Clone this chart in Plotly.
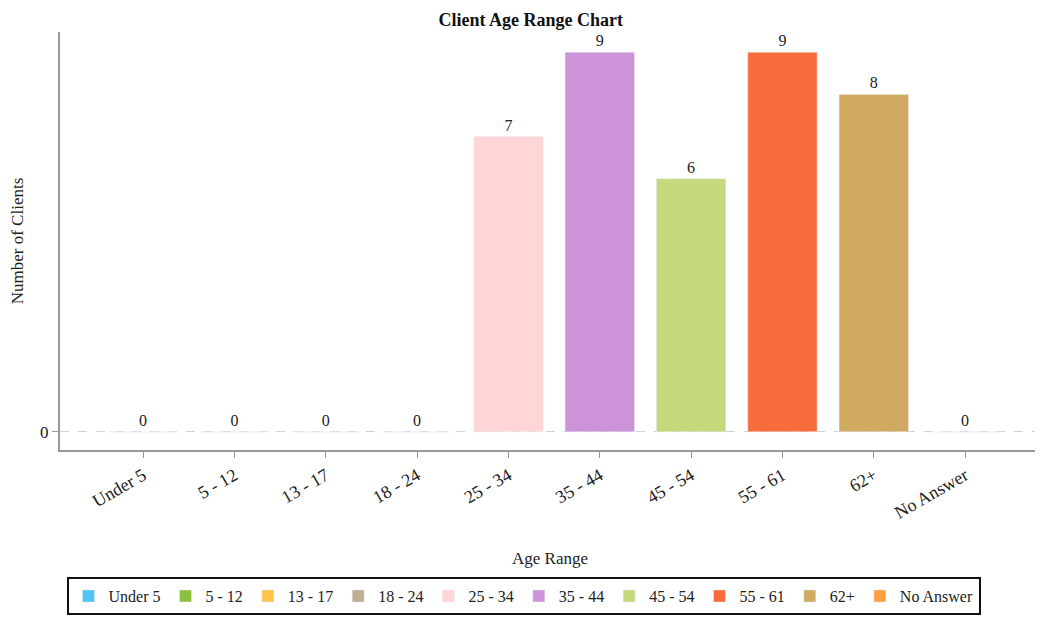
import plotly.graph_objects as go

# Client counts per age range
age_ranges = ["Under 5", "5 - 12", "13 - 17", "18 - 24", "25 - 34",
              "35 - 44", "45 - 54", "55 - 61", "62+", "No Answer"]
clients = [0, 0, 0, 0, 7, 9, 6, 9, 8, 0]
colors = ["#4FC3F7", "#8DC03F", "#FFC447", "#BDAF8F", "#FFD5D8",
          "#CD93D8", "#C4D97C", "#F76B3C", "#D1AA62", "#FF9D3F"]

FONT = "Liberation Serif"

fig = go.Figure()

for name, val, col in zip(age_ranges, clients, colors):
    fig.add_trace(go.Bar(
        x=[name],
        y=[val],
        name=name,
        marker_color=col,
        width=0.76,
        text=[str(val)],
        textposition='outside',
        textfont=dict(size=16, color='#222'),
        cliponaxis=False,
    ))

# page body adds an 8px margin, so the figure is sized 8px smaller
fig.update_layout(
    width=1035,
    height=634,
    margin=dict(l=52, r=3, t=24, b=192, autoexpand=False),
    plot_bgcolor='white',
    paper_bgcolor='white',
    font=dict(family=FONT, size=16, color='#222'),
    title=dict(text="<b>Client Age Range Chart</b>", x=0.505, xanchor='center',
               y=0.995, yanchor='top', pad=dict(t=2),
               font=dict(size=18, color='#111')),
    barmode='overlay',
    showlegend=True,
    legend=dict(
        orientation='h',
        x=0.473, xanchor='center',
        y=-0.304, yanchor='top',
        bordercolor='#111', borderwidth=2,
        font=dict(size=16, color='#222'),
        itemwidth=30,
        traceorder='normal',
    ),
    xaxis=dict(
        categoryorder='array', categoryarray=age_ranges,
        range=[-0.91, 9.82],
        showline=True, linecolor='#999', linewidth=2,
        ticks='outside', ticklen=6, tickcolor='#999',
        tickangle=-30,
        tickfont=dict(size=18),
        showgrid=False,
        automargin=False,
        title=dict(text="Age Range", standoff=30, font=dict(size=17)),
    ),
    yaxis=dict(
        range=[-0.43, 9.48],
        tickvals=[0],
        showline=True, linecolor='#999', linewidth=2,
        ticks='outside', ticklen=6, tickcolor='#999',
        tickfont=dict(size=17),
        showgrid=True, gridcolor='#d3d3d3', griddash='dash', gridwidth=1,
        zeroline=False,
        automargin=False,
        title=dict(text="Number of Clients", standoff=12, font=dict(size=17)),
    ),
)

fig.write_html("out.html")
